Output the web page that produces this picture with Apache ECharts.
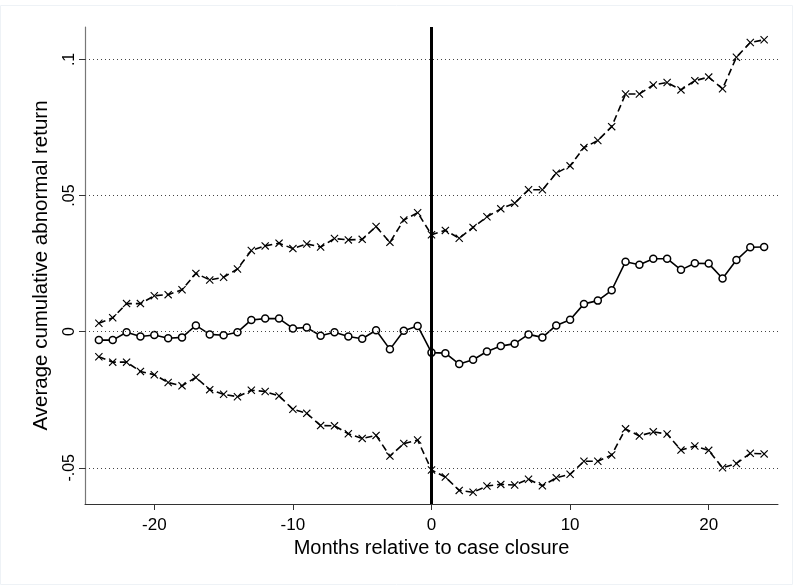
<!DOCTYPE html>
<html><head><meta charset="utf-8">
<script src="https://cdn.jsdelivr.net/npm/echarts@6/dist/echarts.min.js"></script>
<style>html,body{margin:0;padding:0;background:#fff}#c{width:793px;height:585px}</style>
</head><body><div id="c"></div>
<script>
const months = [-24,-23,-22,-21,-20,-19,-18,-17,-16,-15,-14,-13,-12,-11,-10,-9,-8,-7,-6,-5,-4,-3,-2,-1,0,1,2,3,4,5,6,7,8,9,10,11,12,13,14,15,16,17,18,19,20,21,22,23,24];
const upper = [0.0031,0.0051,0.0103,0.0103,0.0132,0.0136,0.0154,0.0214,0.0190,0.0200,0.0230,0.0298,0.0315,0.0325,0.0305,0.0322,0.0311,0.0342,0.0337,0.0339,0.0386,0.0328,0.0410,0.0437,0.0356,0.0372,0.0343,0.0383,0.0422,0.0451,0.0472,0.0521,0.0521,0.0582,0.0609,0.0676,0.0702,0.0753,0.0873,0.0873,0.0906,0.0915,0.0888,0.0922,0.0935,0.0892,0.1008,0.1062,0.1072];
const middle = [-0.0031,-0.0031,-0.0002,-0.0018,-0.0012,-0.0024,-0.0021,0.0023,-0.0010,-0.0013,-0.0002,0.0043,0.0048,0.0048,0.0012,0.0015,-0.0015,-0.0002,-0.0018,-0.0026,0.0005,-0.0065,0.0003,0.0021,-0.0077,-0.0079,-0.0119,-0.0103,-0.0073,-0.0053,-0.0044,-0.0010,-0.0021,0.0023,0.0044,0.0102,0.0114,0.0152,0.0257,0.0246,0.0268,0.0268,0.0227,0.0251,0.0250,0.0195,0.0263,0.0310,0.0311];
const lower = [-0.0092,-0.0112,-0.0112,-0.0146,-0.0158,-0.0187,-0.0199,-0.0168,-0.0213,-0.0230,-0.0239,-0.0215,-0.0220,-0.0236,-0.0285,-0.0300,-0.0345,-0.0346,-0.0375,-0.0392,-0.0381,-0.0457,-0.0411,-0.0398,-0.0508,-0.0534,-0.0583,-0.0590,-0.0567,-0.0561,-0.0563,-0.0542,-0.0566,-0.0537,-0.0524,-0.0476,-0.0476,-0.0453,-0.0357,-0.0383,-0.0368,-0.0376,-0.0435,-0.0420,-0.0436,-0.0500,-0.0484,-0.0447,-0.0449];
const xTicks = [-20,-10,0,10,20];
const yTicks = [-0.05,0,0.05,0.1];

const pair = (ys) => months.map((m,i)=>[m, ys[i]]);
const fmtY = v => { const s = String(Math.round(v*1000)/1000); return s.replace(/^(-?)0\./,'$1.'); };
const xSym = 'path://M1,0L5,4L9,0L10,1L6,5L10,9L9,10L5,6L1,10L0,9L4,5L0,1Z';
const FONT = 'Liberation Sans, Arial, sans-serif';

const chart = echarts.init(document.getElementById('c'), null, {renderer:'canvas'});
chart.setOption({
  animation:false,
  backgroundColor:'#fff',
  textStyle:{fontFamily:FONT},
  grid:{left:85, right:15, top:27, bottom:81, containLabel:false},
  xAxis:{type:'value', min:-25, max:25,
    name:'Months relative to case closure', nameLocation:'middle', nameGap:31,
    nameTextStyle:{fontSize:20, color:'#000', fontFamily:FONT},
    axisLine:{show:true, onZero:false, lineStyle:{color:'#333', width:1}},
    axisTick:{show:true, length:6, customValues:xTicks, lineStyle:{color:'#333'}},
    axisLabel:{customValues:xTicks, fontSize:17, color:'#000', margin:13, fontFamily:FONT},
    splitLine:{show:false}},
  yAxis:{type:'value', min:-0.0633, max:0.1119,
    name:'Average cumulative abnormal return', nameLocation:'middle', nameGap:33,
    nameTextStyle:{fontSize:20.5, color:'#000', fontFamily:FONT},
    axisLine:{show:true, onZero:false, lineStyle:{color:'#777', width:1.2}},
    axisTick:{show:true, length:6, customValues:yTicks, lineStyle:{color:'#333'}},
    axisLabel:{customValues:yTicks, fontSize:16, color:'#000', rotate:90, margin:7, formatter:fmtY, fontFamily:FONT},
    splitLine:{show:false}},
  series:[
    {type:'line', data:pair(upper), symbol:xSym, symbolSize:8, color:'#000',
     lineStyle:{color:'#000', width:1.6, type:[7,4]}, itemStyle:{color:'#000'}, z:3,
     markLine:{silent:true, symbol:'none', label:{show:false},
       lineStyle:{color:'#444', width:1, type:[1,3]},
       data:yTicks.map(v=>({yAxis:v}))}},
    {type:'line', data:pair(middle), symbol:'circle', symbolSize:7, color:'#000',
     lineStyle:{color:'#000', width:1.6, type:'solid'}, itemStyle:{color:'#fff', borderColor:'#000', borderWidth:1.5}, z:3,
     markLine:{silent:true, symbol:'none', label:{show:false},
       lineStyle:{color:'#000', width:3, type:'solid'},
       data:[{xAxis:0}]}},
    {type:'line', data:pair(lower), symbol:xSym, symbolSize:8, color:'#000',
     lineStyle:{color:'#000', width:1.6, type:[7,4]}, itemStyle:{color:'#000'}, z:3}
  ],
  graphic:[{type:'rect', shape:{x:0.5,y:5.5,width:792,height:579}, style:{fill:'none', stroke:'#eef2f6', lineWidth:1}, silent:true}]
});
</script></body></html>
